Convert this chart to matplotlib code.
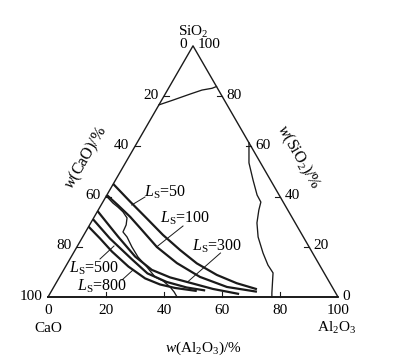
import numpy as np
import matplotlib.pyplot as plt

plt.rcParams['font.family'] = ['Liberation Serif', 'DejaVu Serif']
plt.rcParams['mathtext.fontset'] = 'custom'
plt.rcParams['mathtext.rm'] = 'Liberation Serif'
plt.rcParams['mathtext.it'] = 'Liberation Serif:italic'

# compositions in w%, (Al2O3, SiO2); CaO = 100 - Al2O3 - SiO2
ls50_al = [0, 9.3, 18.4, 27.3, 36.2, 44.6, 53.8, 62.3, 70.5]
ls50_si = [45.0, 38.0, 31.3, 24.7, 18.7, 13.4, 8.8, 5.5, 3.1]
ls100_al = [0, 5.8, 12.4, 18.0, 27.6, 37.7, 48.4, 59.7, 71.0]
ls100_si = [40.6, 36.6, 31.9, 27.5, 19.9, 13.5, 8.0, 4.0, 2.1]
ls300_al = [0, 7.4, 12.2, 22.0, 30.4, 38.2, 44.9, 55.3, 65.3]
ls300_si = [34.2, 28.0, 24.0, 16.1, 10.8, 7.8, 6.0, 3.2, 1.2]
ls500_al = [0, 9.7, 21.3, 29.6, 37.9, 45.9, 52.9]
ls500_si = [31.0, 23.3, 15.1, 9.4, 6.0, 3.8, 2.6]
ls800_al = [0, 6.3, 13.0, 21.7, 29.8, 36.1, 42.0, 50.1]
ls800_si = [28.0, 23.3, 18.1, 12.1, 7.4, 5.0, 3.6, 2.4]
ls_names = ['50', '100', '300', '500', '800']

# liquidus boundaries (thin lines)
silica_al = [0, 3.9, 8.6, 11.9, 15.0, 16.2]
silica_si = [76.5, 78.4, 80.8, 82.4, 83.1, 83.8]
mullite_al = [38.6, 42.6, 47.4, 51.8, 54.5, 55.4, 57.3, 60.5, 65.4, 69.5, 72.8, 76.4, 77.2]
mullite_si = [61.4, 53.4, 46.6, 40.6, 37.8, 34.6, 29.5, 23.9, 17.5, 12.7, 9.6, 1.6, 0]
lime_al = [0, 3.7, 6.2, 8.9, 11.5, 12.6, 12.9, 15.3, 19.0, 23.1, 28.2, 32.9, 36.5, 40.1, 42.5, 44.5]
lime_si = [40.2, 37.4, 35.8, 33.9, 31.5, 28.7, 25.9, 23.9, 19.9, 15.9, 11.9, 8.0, 6.4, 4.0, 2.0, 0]

ticks = [0, 20, 40, 60, 80, 100]
H = np.sqrt(3) / 2


def tern(al, si):
    al = np.asarray(al, float)
    si = np.asarray(si, float)
    return al + si / 2, si * H


def pix(px, py):
    # reference pixel -> plot units (layout only)
    return (px - 48) / 2.9, (297 - py) / 2.9


fig = plt.figure(figsize=(4.1, 3.64), dpi=100)
ax = fig.add_axes([0, 0, 1, 1])
ax.set_xlim(-48 / 2.9, 362 / 2.9)
ax.set_ylim(-67 / 2.9, 297 / 2.9)
ax.axis('off')

k = '#1a1a1a'
# triangle
tx, ty = tern([0, 100, 0, 0], [0, 0, 100, 0])
ax.plot(tx, ty, color=k, lw=1.0)
ax.plot(tx[:2], ty[:2], color=k, lw=1.3)

# ticks and tick labels
fs = 11
for t in ticks:
    # bottom: Al2O3
    x, y = tern(t, 0)
    if 0 < t < 100:
        ax.plot([x, x], [y, y + 1.6], color=k, lw=0.8)
    ax.text(x, -4.6, str(t), ha='center', va='center', fontsize=fs)
    # left: CaO
    x, y = tern(0, 100 - t)
    if 0 < t < 100:
        ax.plot([x, x + 1.8], [y, y], color=k, lw=0.8)
    ax.text(x - 1.9, y + 0.3, str(t), ha='right', va='center', fontsize=fs)
    # right: SiO2
    x, y = tern(100 - t, t)
    if 0 < t < 100:
        ax.plot([x - 1.8, x], [y, y], color=k, lw=0.8)
    ax.text(x + 1.6, y + 0.3, str(t), ha='left', va='center', fontsize=fs)

# boundary curves
for al, si in [(silica_al, silica_si), (mullite_al, mullite_si), (lime_al, lime_si)]:
    x, y = tern(al, si)
    ax.plot(x, y, color=k, lw=0.95)

# Ls iso-lines
curves = [(ls50_al, ls50_si), (ls100_al, ls100_si), (ls300_al, ls300_si),
          (ls500_al, ls500_si), (ls800_al, ls800_si)]
for al, si in curves:
    x, y = tern(al, si)
    ax.plot(x, y, color=k, lw=1.6, solid_capstyle='butt')

# labels with pointer lines (reference pixel positions)
label_pos = [(144, 197), (160, 223), (192, 251), (69, 273), (77, 291)]
pointers = [((131.7, 205), (145, 197)), ((156.5, 247), (183, 226)),
            ((187.5, 282), (220.5, 253)), ((100, 259), (114, 246)),
            ((122, 280), (133, 270))]
for name, p, (a, b) in zip(ls_names, label_pos, pointers):
    x, y = pix(*p)
    ax.text(x, y, r'$L_{\mathrm{S}}$=' + name, ha='left', va='baseline', fontsize=11.5)
    xa, ya = pix(*a)
    xb, yb = pix(*b)
    ax.plot([xa, xb], [ya, yb], color=k, lw=0.7)

# component names and axis titles
x, y = pix(193, 32)
ax.text(x, y, r'SiO$_2$', ha='center', va='center', fontsize=fs)
x, y = pix(48, 328)
ax.text(x, y, 'CaO', ha='center', va='center', fontsize=fs)
x, y = pix(337, 328)
ax.text(x, y, r'Al$_2$O$_3$', ha='center', va='center', fontsize=fs)
x, y = pix(203, 348)
ax.text(x, y, r'$w$(Al$_2$O$_3$)/%', ha='center', va='center', fontsize=fs)
x, y = pix(86, 158)
ax.text(x, y, r'$w$(CaO)/%', ha='center', va='center', rotation=60,
        rotation_mode='anchor', fontsize=11.5)
x, y = pix(298, 157)
ax.text(x, y, r'$w$(SiO$_2$)/%', ha='center', va='center', rotation=-60,
        rotation_mode='anchor', fontsize=11.5)

fig.savefig('out.png', dpi=100)
